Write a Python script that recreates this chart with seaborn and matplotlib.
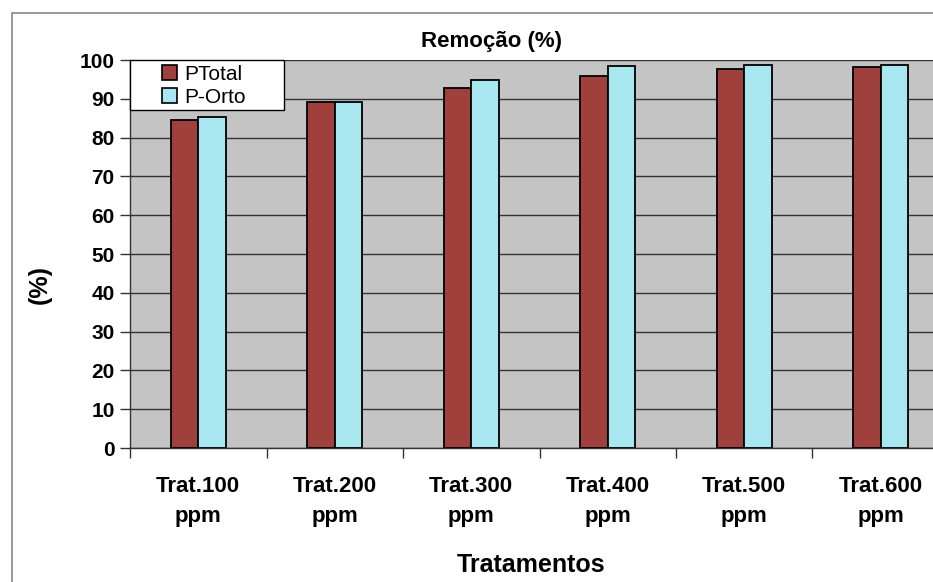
import matplotlib
matplotlib.use("Agg")
import matplotlib.pyplot as plt
import seaborn as sns
import pandas as pd
from matplotlib.patches import Rectangle

categories = ["Trat.100\nppm", "Trat.200\nppm", "Trat.300\nppm",
              "Trat.400\nppm", "Trat.500\nppm", "Trat.600\nppm"]
ptotal = [84.5, 89.1, 92.8, 95.9, 97.7, 98.1]
porto = [85.4, 89.1, 94.8, 98.5, 98.7, 98.7]
series = ["PTotal", "P-Orto"]
yticks = [0, 10, 20, 30, 40, 50, 60, 70, 80, 90, 100]

df = pd.DataFrame({
    "cat": categories * 2,
    "serie": [series[0]] * len(categories) + [series[1]] * len(categories),
    "val": ptotal + porto,
})

sns.set_theme(style="white")
plt.rcParams["font.family"] = ["Liberation Sans", "DejaVu Sans"]
plt.rcParams["text.color"] = "black"
plt.rcParams["xtick.color"] = "black"
plt.rcParams["ytick.color"] = "black"

fig = plt.figure(figsize=(9.33, 5.82), dpi=100)
W, H = 933, 582
# outer chart frame
fig.patches.append(Rectangle((12 / W, -0.1), 1.2, 1 - 13 / H + 0.1,
                             transform=fig.transFigure, fill=False,
                             edgecolor="#888888", linewidth=1.2))

ax = fig.add_axes([130 / W, 1 - 448 / H, (949 - 130) / W, (448 - 60) / H])
ax.set_facecolor("#C4C4C4")

sns.barplot(data=df, x="cat", y="val", hue="serie", order=categories,
            hue_order=series, palette=["#A0403C", "#A8E6F0"], saturation=1,
            width=0.4, gap=0, edgecolor="black", linewidth=1.3,
            errorbar=None, ax=ax, zorder=3, legend=True)

ax.set_ylim(0, 100)
ax.set_xlim(-0.5, len(categories) - 0.5)
ax.set_yticks(yticks)
ax.set_yticklabels([str(v) for v in yticks], fontsize=15, fontweight="bold")
ax.yaxis.grid(True, color="#333333", linewidth=1.0, zorder=0)
ax.set_axisbelow(True)

ax.set_xticks([i - 0.5 for i in range(len(categories) + 1)])
ax.set_xticklabels([])
ax.set_xticks(range(len(categories)), minor=True)
ax.set_xticklabels(categories, minor=True, fontsize=16, fontweight="bold",
                   linespacing=1.55)
ax.tick_params(axis="x", which="major", direction="out", length=7, width=1,
               color="#333333", bottom=True)
ax.tick_params(axis="x", which="minor", length=0, pad=20, bottom=True)
ax.tick_params(axis="y", direction="out", length=7, width=1,
               color="#333333", left=True, pad=4)

for s in ["top", "right"]:
    ax.spines[s].set_visible(False)
for s in ["left", "bottom"]:
    ax.spines[s].set_color("#333333")
    ax.spines[s].set_linewidth(1.0)

ax.set_xlabel("")
ax.set_ylabel("")
fig.text(40 / W, 1 - 285 / H, "(%)", rotation=90, ha="center", va="center",
         fontsize=18, fontweight="bold")
fig.text(531 / W, 1 - 565 / H, "Tratamentos", ha="center", va="center",
         fontsize=18, fontweight="bold")
fig.text(492 / W, 1 - 42 / H, "Remoção (%)", ha="center", va="center",
         fontsize=16, fontweight="bold")

# legend box (Excel-style, with wide padding)
box = Rectangle((130 / W, 1 - 110 / H), (284 - 130) / W, (110 - 60) / H,
                transform=fig.transFigure, facecolor="white",
                edgecolor="black", linewidth=1.0, zorder=5, clip_on=False)
ax.add_patch(box)
leg = ax.legend(loc="upper left", bbox_to_anchor=(162 / W, 1 - 65 / H),
                bbox_transform=fig.transFigure, borderaxespad=0,
                frameon=False, fontsize=15, handlelength=0.7,
                handleheight=0.7, handletextpad=0.35, labelspacing=0.18,
                borderpad=0)
leg.set_zorder(6)
for h in leg.legend_handles:
    h.set_edgecolor("black")
    h.set_linewidth(1.2)

fig.savefig("out.png", dpi=100)
